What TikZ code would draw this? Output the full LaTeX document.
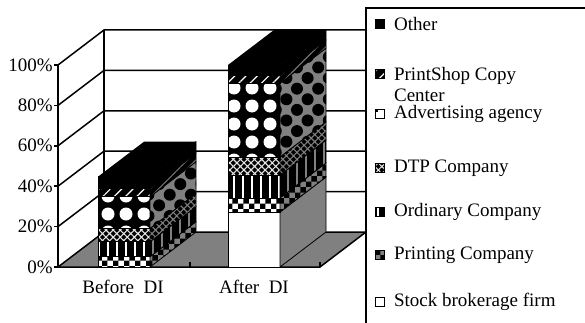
\documentclass[tikz,border=0pt]{standalone}
\usepackage{fontspec}
\setmainfont{Liberation Serif}
\usetikzlibrary{positioning,patterns,patterns.meta}
\tikzset{
  wall/.style={draw=black,line width=1.5pt},
  chart text/.style={font=\fontsize{19}{20.5}\selectfont,inner sep=2pt},
  legkey/.style={draw=black,line width=.8pt,minimum size=9pt,inner sep=0pt},
  stock front/.style={fill=white},
  stock side/.style={fill=gray},
  printing front/.style={preaction={fill=white},pattern=checkerboard,pattern color=black},
  printing side/.style={preaction={fill=gray},pattern=checkerboard,pattern color=black},
  ordinary front/.style={preaction={fill=black},pattern={Lines[angle=90,distance=9pt,line width=2pt]},pattern color=white},
  ordinary side/.style={preaction={fill=black},pattern={Lines[angle=90,distance=9pt,line width=2pt]},pattern color=gray},
  dtp front/.style={preaction={fill=black},pattern={Hatch[angle=45,distance=5pt,line width=1.1pt]},pattern color=white!80!gray},
  dtp side/.style={preaction={fill=black},pattern={Hatch[angle=45,distance=5pt,line width=1.1pt]},pattern color=gray},
  adv front/.style={preaction={fill=black},pattern={Dots[radius=6.5pt,distance=18pt]},pattern color=white},
  adv side/.style={preaction={fill=gray},pattern={Dots[radius=6pt,distance=15pt,angle=45]},pattern color=black},
  shop front/.style={preaction={fill=black},pattern={Lines[angle=45,distance=8pt,line width=1.2pt]},pattern color=white},
  shop side/.style={preaction={fill=black},pattern={Lines[angle=45,distance=6pt,line width=1pt]},pattern color=gray},
  other front/.style={fill=black},
  other side/.style={fill=black}
}
% one slice of a column: left x, lower %, upper %, kind
\newcommand\barpart[4]{%
  \path[#4 front,draw=black,line width=.8pt] (#1,#2) rectangle ++(52,{#3-#2});
  \path[#4 side,draw=black,line width=.8pt] (#1+52,#2) -- ++(46pt,35pt) -- ++(0,{#3-#2}) -- ++(-46pt,-35pt) -- cycle;
}
\newcommand\bartop[2]{%
  \fill[black] (#1,#2) -- ++(52,0) -- ++(46pt,35pt) -- ++(-52,0) -- cycle;
}

\begin{document}
\begin{tikzpicture}[x=1pt,y=1pt]
  \useasboundingbox (0,0) rectangle (585,322);

  \begin{scope}[shift={(58,55)},y=2.02pt]
    % floor and walls
    \fill[gray] (0,0) -- (262,0) -- ++(46pt,35pt) -- (46pt,35pt) -- cycle;
    \foreach \v in {0,20,...,100} {
      \draw[wall] (0,\v) -- ++(46pt,35pt) -- ++(300pt,0);
      \draw[wall] (0,\v) -- ++(-4pt,0);
      \node[chart text,anchor=east] (lab\v) at (-3pt,\v) {\v\%};
    }
    \draw[wall] (0,0) -- (0,100);
    \draw[wall] (46pt,35pt) -- ++(0,100);
    \draw[wall] (0,0) -- (262,0) -- ++(46pt,35pt);
    \draw[wall] (132,0) -- ++(0,5pt);
    \draw[wall] (262,0) -- ++(0,5pt);

    % Before DI
    \barpart{40}{0}{5.1}{printing}
    \barpart{40}{5.1}{12.5}{ordinary}
    \barpart{40}{12.5}{19.1}{dtp}
    \barpart{40}{19.1}{34.8}{adv}
    \barpart{40}{34.8}{39}{shop}
    \barpart{40}{39}{44.7}{other}
    \bartop{40}{44.7}

    % After DI
    \barpart{170}{0}{27.2}{stock}
    \barpart{170}{27.2}{34.2}{printing}
    \barpart{170}{34.2}{45.5}{ordinary}
    \barpart{170}{45.5}{54.5}{dtp}
    \barpart{170}{54.5}{91}{adv}
    \barpart{170}{91}{95}{shop}
    \barpart{170}{95}{100}{other}
    \bartop{170}{100}

    \node[chart text,yshift=-20pt] (before) at (65,0) {Before~~DI};
    \node[chart text,yshift=-20pt] (after) at (196,0) {After~~DI};
  \end{scope}

  % legend
  \fill[white] (366,-5) rectangle (590,314);
  \draw[line width=1.2pt] (366,-5) -- (366,314) -- (590,314);

  \node[legkey,other front] (kother) at (380,298) {};
  \node[chart text,right=7pt of kother] (tother) {Other};
  \node[legkey,shop front] (kshop) at (380,248) {};
  \node[chart text,align=left,right=7pt of kshop,yshift=-10.5pt] (tshop) {PrintShop Copy\\Center};
  \node[legkey,stock front] (kadv) at (380,208) {};
  \fill[black] (kadv.north west) rectangle ++(3pt,-3pt);
  \node[chart text,right=7pt of kadv] (tadv) {Advertising agency};
  \node[legkey,dtp front] (kdtp) at (380,154) {};
  \node[chart text,right=7pt of kdtp] (tdtp) {DTP Company};
  \node[legkey,ordinary front] (kord) at (380,110) {};
  \node[chart text,right=7pt of kord] (tord) {Ordinary Company};
  \node[legkey,printing side] (kprint) at (380,67) {};
  \node[chart text,right=7pt of kprint] (tprint) {Printing Company};
  \node[legkey,stock front] (kstock) at (380,20) {};
  \node[chart text,right=7pt of kstock] (tstock) {Stock brokerage firm};
\end{tikzpicture}
\end{document}
